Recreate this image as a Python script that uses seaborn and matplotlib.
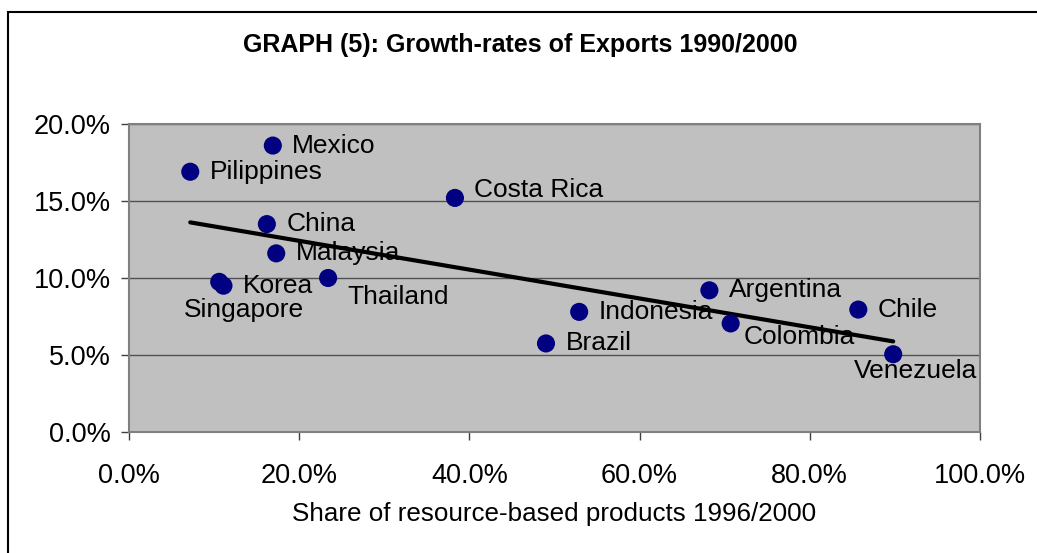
import matplotlib
matplotlib.use("Agg")
import matplotlib.pyplot as plt
import seaborn as sns
import pandas as pd
from matplotlib.ticker import PercentFormatter, MultipleLocator
from matplotlib.patches import Rectangle

countries = ["Mexico", "Pilippines", "Costa Rica", "China", "Malaysia", "Singapore",
             "Korea", "Thailand", "Indonesia", "Brazil", "Argentina", "Colombia",
             "Chile", "Venezuela"]
resource_share = [16.9, 7.2, 38.3, 16.2, 17.3, 10.6, 11.1, 23.4, 52.9, 49.0, 68.2, 70.7, 85.7, 89.8]
export_growth = [18.6, 16.9, 15.2, 13.5, 11.6, 9.75, 9.5, 10.0, 7.8, 5.75, 9.2, 7.05, 7.95, 5.05]

# label offsets in points (dx, dy) and horizontal alignment
label_offsets = [(14, 0), (14, 0), (14, 6), (14, 0), (14, 0), (18, -20),
                 (14, 0), (14, -14), (14, 0), (14, 0), (14, 0), (9, -10),
                 (14, 0), (16, -12)]
label_ha = ["left", "left", "left", "left", "left", "center",
            "left", "left", "left", "left", "left", "left",
            "left", "center"]

df = pd.DataFrame({"country": countries, "share": resource_share, "growth": export_growth})

sns.set_style("white")
plt.rcParams["font.family"] = ["Liberation Sans", "DejaVu Sans"]
plt.rcParams["text.color"] = "black"
plt.rcParams["axes.labelcolor"] = "black"

fig = plt.figure(figsize=(10.37, 5.53), dpi=100)
ax = fig.add_axes([129 / 1037, 1 - 432 / 553, (980 - 129) / 1037, (432 - 124) / 553])
ax.set_facecolor("#C0C0C0")

sns.regplot(data=df, x="share", y="growth", scatter=False, ci=None, ax=ax,
            line_kws={"color": "black", "linewidth": 3, "zorder": 2})
sns.scatterplot(data=df, x="share", y="growth", ax=ax, color="#000080", s=170,
                edgecolor="none", zorder=3)

for name, x, y, (dx, dy), ha in zip(countries, resource_share, export_growth, label_offsets, label_ha):
    ax.annotate(name, (x, y), xytext=(dx, dy), textcoords="offset points",
                ha=ha, va="center", fontsize=19, color="black", zorder=4)

ax.set_xlim(0, 100)
ax.set_ylim(0, 20)
ax.xaxis.set_major_locator(MultipleLocator(20))
ax.yaxis.set_major_locator(MultipleLocator(5))
ax.xaxis.set_major_formatter(PercentFormatter(100, decimals=1))
ax.yaxis.set_major_formatter(PercentFormatter(100, decimals=1))
ax.yaxis.grid(True, color="#505050", linewidth=1)
ax.xaxis.grid(False)
ax.set_axisbelow(True)
ax.tick_params(axis="both", direction="out", length=6, width=1, color="#404040",
               labelsize=19.5, labelcolor="black", pad=7)
ax.tick_params(axis="x", pad=16)
ax.tick_params(left=True, bottom=True)
for sp in ax.spines.values():
    sp.set_color("#808080")
    sp.set_linewidth(1.5)

ax.set_xlabel("Share of resource-based products 1996/2000", fontsize=18.7,
              labelpad=10, color="black")
ax.set_ylabel("")

fig.text(520 / 1037, 1 - 45 / 553, "GRAPH (5): Growth-rates of Exports 1990/2000",
         ha="center", va="center", fontsize=18, fontweight="bold", color="black")

fig.patches.append(Rectangle((8 / 1037, -0.1), 1.2, 1 - 12 / 553 + 0.1,
                             transform=fig.transFigure, fill=False,
                             edgecolor="black", linewidth=1.5))

fig.savefig("out.png", dpi=100)
